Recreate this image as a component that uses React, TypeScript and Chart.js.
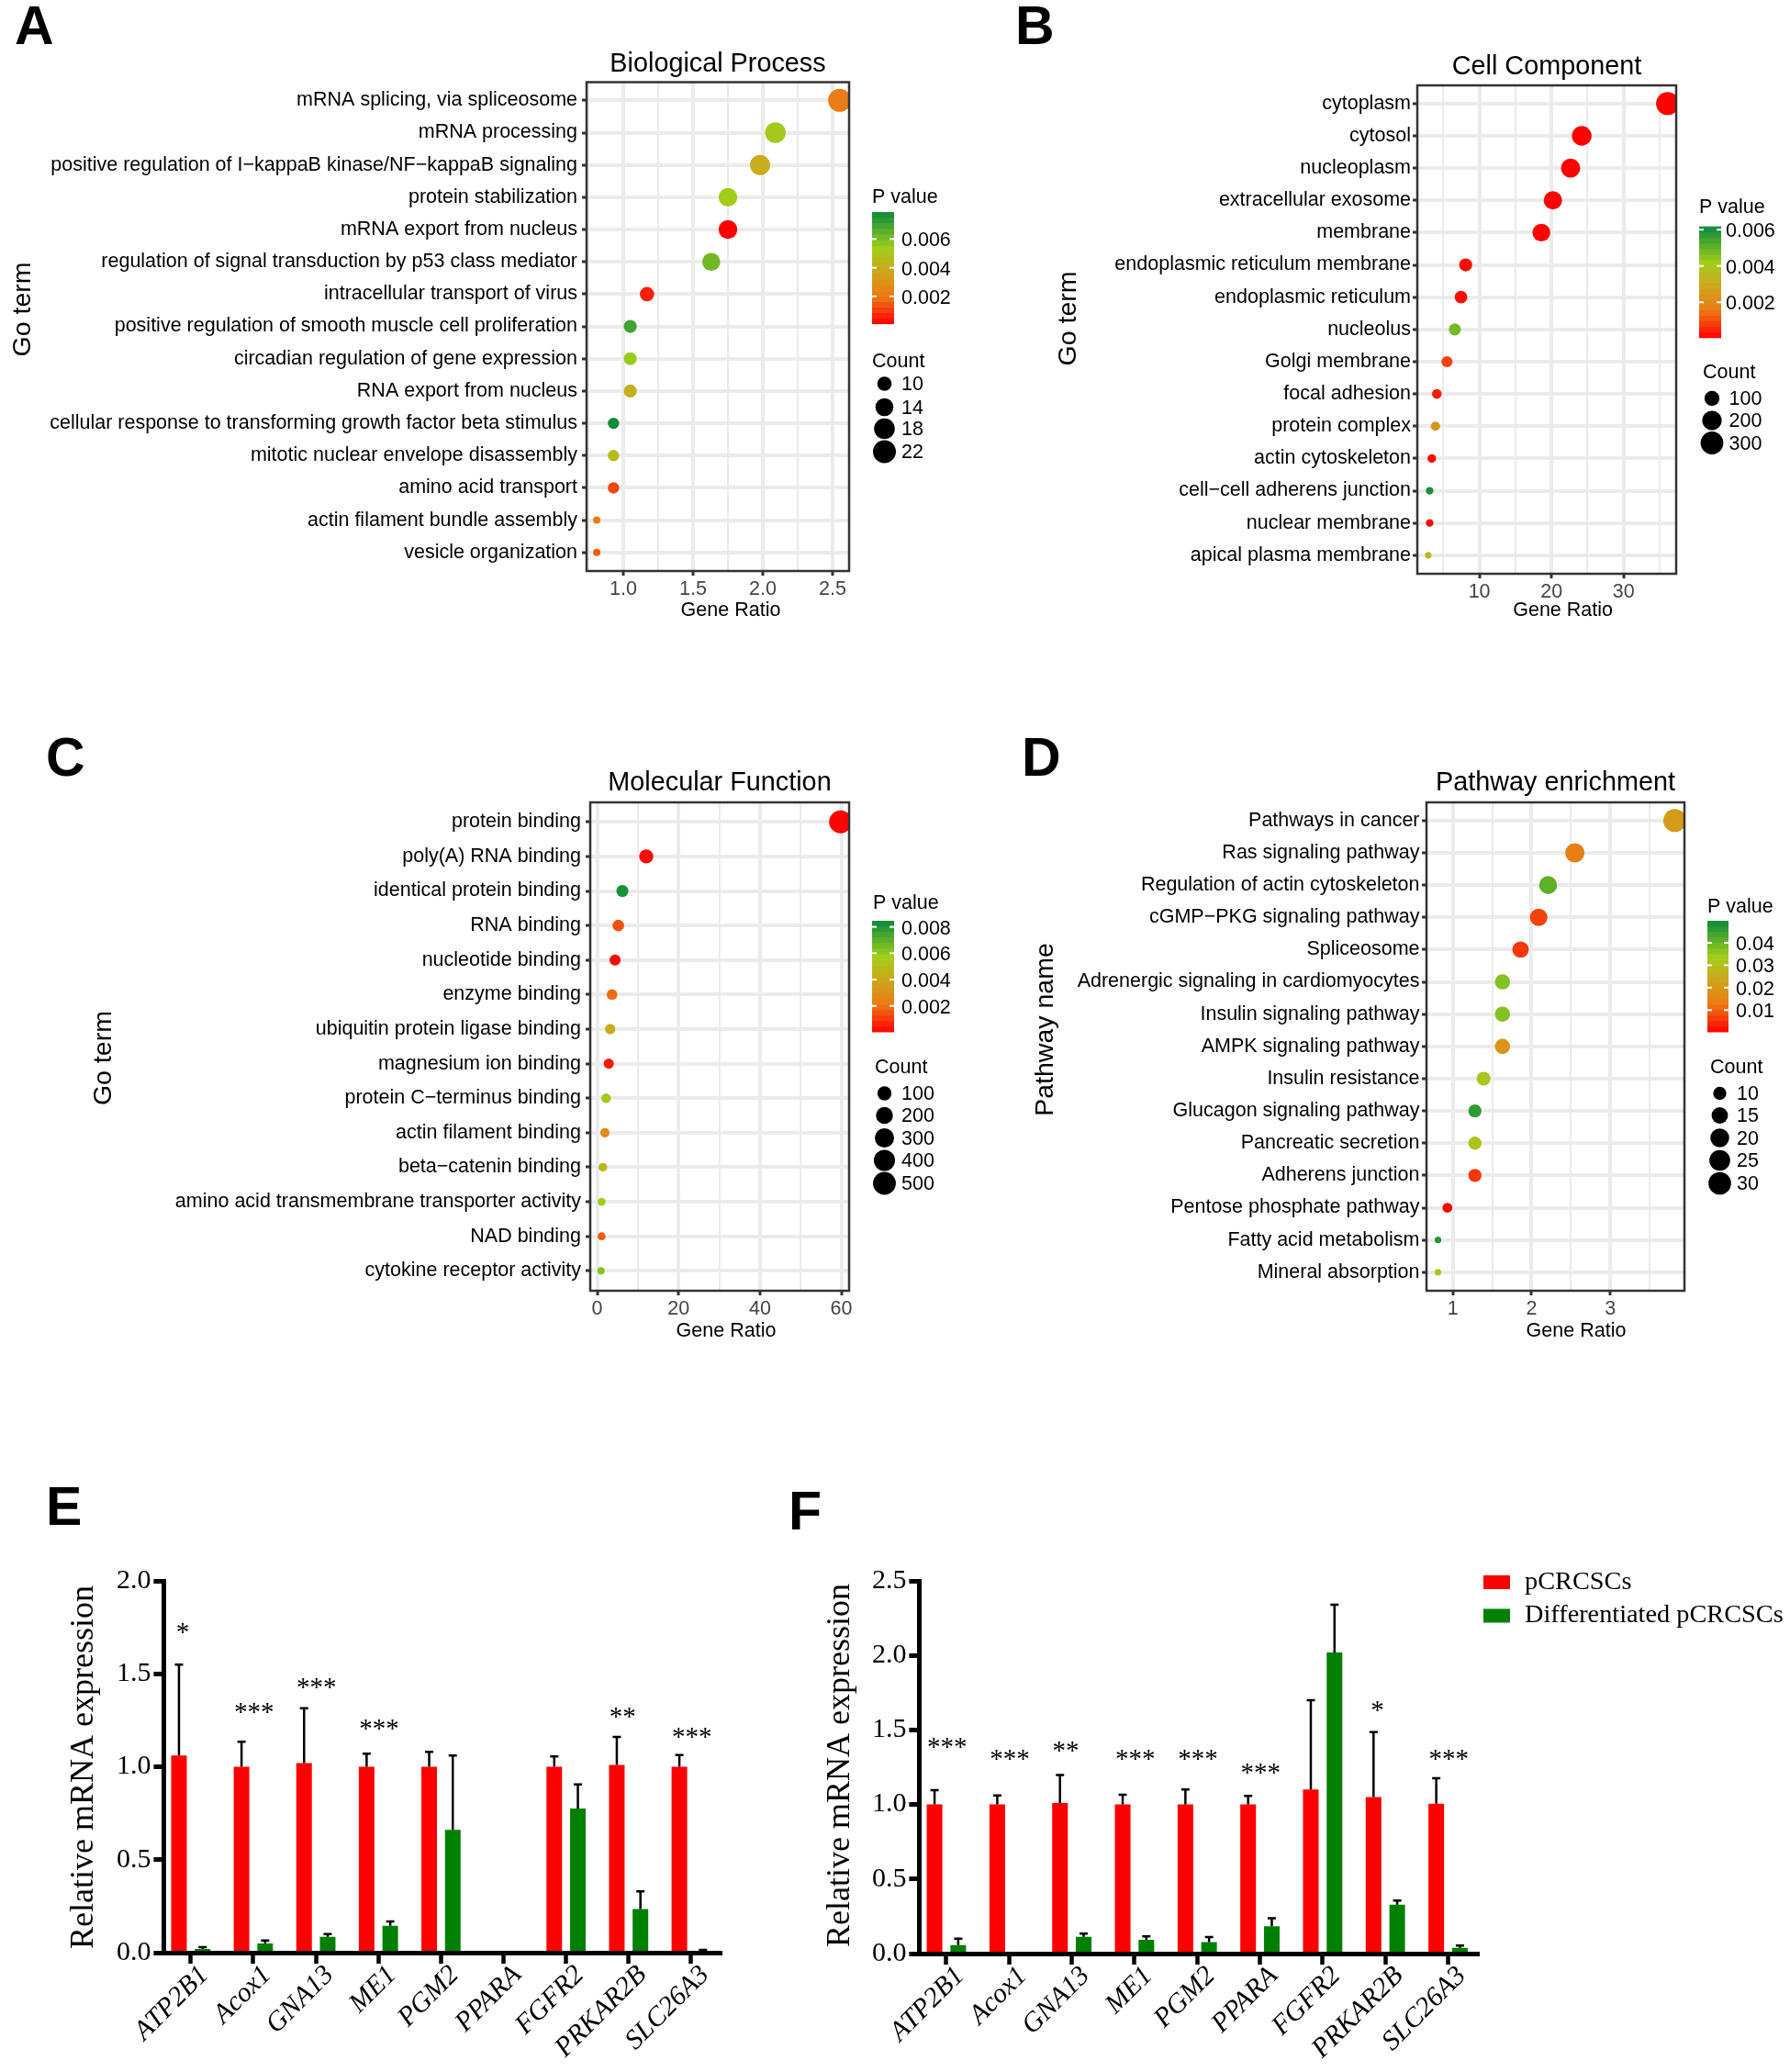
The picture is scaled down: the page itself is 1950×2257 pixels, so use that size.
import React, { useEffect, useRef } from 'react';
import { Chart, registerables } from 'chart.js';

Chart.register(...registerables);

const SANS = '"Liberation Sans", Arial, sans-serif';
const SERIF = '"Liberation Serif", "Times New Roman", serif';

// A - Biological Process
const aTerms = [
  'mRNA splicing, via spliceosome',
  'mRNA processing',
  'positive regulation of I\u2212kappaB kinase/NF\u2212kappaB signaling',
  'protein stabilization',
  'mRNA export from nucleus',
  'regulation of signal transduction by p53 class mediator',
  'intracellular transport of virus',
  'positive regulation of smooth muscle cell proliferation',
  'circadian regulation of gene expression',
  'RNA export from nucleus',
  'cellular response to transforming growth factor beta stimulus',
  'mitotic nuclear envelope disassembly',
  'amino acid transport',
  'actin filament bundle assembly',
  'vesicle organization',
];
const aRatios = [2.55, 2.09, 1.98, 1.75, 1.75, 1.63, 1.17, 1.05, 1.05, 1.05, 0.93, 0.93, 0.93, 0.81, 0.81];
const aCounts = [22, 18, 17, 15, 15, 14, 10, 9, 9, 9, 8, 8, 8, 7, 7];
const aPvals = [0.0021, 0.0052, 0.004, 0.0053, 0.0001, 0.0062, 0.0006, 0.007, 0.0055, 0.0042, 0.0078, 0.0046, 0.0012, 0.0021, 0.0016];

// B - Cell Component
const bTerms = [
  'cytoplasm',
  'cytosol',
  'nucleoplasm',
  'extracellular exosome',
  'membrane',
  'endoplasmic reticulum membrane',
  'endoplasmic reticulum',
  'nucleolus',
  'Golgi membrane',
  'focal adhesion',
  'protein complex',
  'actin cytoskeleton',
  'cell\u2212cell adherens junction',
  'nuclear membrane',
  'apical plasma membrane',
];
const bRatios = [36.1, 24.2, 22.65, 20.2, 18.6, 8.1, 7.45, 6.6, 5.5, 4.1, 3.9, 3.4, 3.1, 3.1, 2.9];
const bCounts = [307, 206, 193, 172, 158, 69, 63, 56, 47, 35, 33, 29, 26, 26, 25];
const bPvals = [0.0001, 0.0001, 0.0001, 0.0001, 0.0001, 0.0002, 0.0002, 0.0048, 0.0009, 0.0004, 0.0024, 0.0002, 0.006, 0.0001, 0.0035];

// C - Molecular Function
const cTerms = [
  'protein binding',
  'poly(A) RNA binding',
  'identical protein binding',
  'RNA binding',
  'nucleotide binding',
  'enzyme binding',
  'ubiquitin protein ligase binding',
  'magnesium ion binding',
  'protein C\u2212terminus binding',
  'actin filament binding',
  'beta\u2212catenin binding',
  'amino acid transmembrane transporter activity',
  'NAD binding',
  'cytokine receptor activity',
];
const cRatios = [59.8, 12.06, 6.2, 5.2, 4.4, 3.65, 3.2, 2.85, 2.2, 1.9, 1.4, 1.1, 1.1, 0.95];
const cCounts = [508, 103, 53, 44, 37, 31, 27, 24, 19, 16, 12, 9, 9, 8];
const cPvals = [0.0001, 0.0002, 0.0082, 0.0014, 0.0002, 0.0019, 0.0042, 0.0005, 0.0056, 0.003, 0.0048, 0.0058, 0.0016, 0.0062];

// D - Pathway enrichment
const dTerms = [
  'Pathways in cancer',
  'Ras signaling pathway',
  'Regulation of actin cytoskeleton',
  'cGMP\u2212PKG signaling pathway',
  'Spliceosome',
  'Adrenergic signaling in cardiomyocytes',
  'Insulin signaling pathway',
  'AMPK signaling pathway',
  'Insulin resistance',
  'Glucagon signaling pathway',
  'Pancreatic secretion',
  'Adherens junction',
  'Pentose phosphate pathway',
  'Fatty acid metabolism',
  'Mineral absorption',
];
const dRatios = [3.82, 2.55, 2.21, 2.09, 1.86, 1.63, 1.63, 1.63, 1.39, 1.28, 1.28, 1.28, 0.93, 0.81, 0.81];
const dCounts = [31, 21, 18, 17, 15, 13, 13, 13, 11, 10, 10, 10, 7, 6, 6];
const dPvals = [0.021, 0.014, 0.041, 0.007, 0.006, 0.037, 0.037, 0.019, 0.032, 0.046, 0.031, 0.006, 0.0006, 0.047, 0.031];

// E / F - qPCR bars
const genes = ['ATP2B1', 'Acox1', 'GNA13', 'ME1', 'PGM2', 'PPARA', 'FGFR2', 'PRKAR2B', 'SLC26A3'];
const eRed = [1.06, 1.0, 1.02, 1.0, 1.0, null, 1.0, 1.01, 1.0];
const eRedTop = [1.55, 1.135, 1.315, 1.07, 1.08, null, 1.055, 1.16, 1.063];
const eGreen = [0.02, 0.05, 0.085, 0.145, 0.66, null, 0.775, 0.235, 0.008];
const eGreenTop = [0.03, 0.065, 0.1, 0.168, 1.06, null, 0.905, 0.33, 0.015];
const eStars = ['*', '***', '***', '***', '', '', '', '**', '***'];
const eStarLevels = [1.74, 1.314, 1.447, 1.225, 0, 0, 0, 1.287, 1.177];

const fRed = [1.0, 1.0, 1.01, 1.0, 1.0, 1.0, 1.1, 1.05, 1.005];
const fRedTop = [1.096, 1.06, 1.197, 1.066, 1.1, 1.058, 1.7, 1.486, 1.176];
const fGreen = [0.057, 0.005, 0.113, 0.093, 0.077, 0.183, 2.02, 0.328, 0.039];
const fGreenTop = [0.1, 0.005, 0.134, 0.116, 0.111, 0.237, 2.34, 0.356, 0.054];
const fStars = ['***', '***', '**', '***', '***', '***', '', '*', '***'];
const fStarLevels = [1.409, 1.326, 1.383, 1.326, 1.326, 1.236, 0, 1.654, 1.326];

const seriesNames = ['pCRCSCs', 'Differentiated pCRCSCs'];

const GRADIENT: [number, number[]][] = [
  [0, [255, 0, 0]],
  [0.25, [236, 122, 20]],
  [0.5, [200, 172, 28]],
  [0.68, [160, 206, 26]],
  [1, [12, 138, 60]],
];

function rampColor(t: number) {
  const v = Math.max(0, Math.min(1, t));
  for (let i = 1; i < GRADIENT.length; i++) {
    const [t1, c1] = GRADIENT[i];
    const [t0, c0] = GRADIENT[i - 1];
    if (v <= t1) {
      const k = (v - t0) / (t1 - t0);
      const c = c0.map((a, j) => Math.round(a + (c1[j] - a) * k));
      return `rgb(${c[0]},${c[1]},${c[2]})`;
    }
  }
  return 'rgb(12,138,60)';
}

function drawText(ctx: any, text: string, x: number, y: number, font: string, align = 'left', rotate = 0, color = '#000') {
  ctx.save();
  ctx.translate(x, y);
  if (rotate) ctx.rotate(rotate);
  ctx.font = font;
  ctx.fillStyle = color;
  ctx.textAlign = align;
  ctx.textBaseline = 'middle';
  ctx.fillText(text, 0, 0);
  ctx.restore();
}

function DotPanel(p: any) {
  const ref = useRef<HTMLCanvasElement | null>(null);
  const [ox, oy, w, h] = p.frame;

  useEffect(() => {
    if (!ref.current) return;
    const cMin = Math.min(...p.counts);
    const cMax = Math.max(...p.counts);
    const radius = (c: number) => p.rMin + (12.5 - p.rMin) * Math.sqrt(Math.max(0, c - cMin) / (cMax - cMin));
    const colorOf = (v: number) => rampColor((v - p.pRange[0]) / (p.pRange[1] - p.pRange[0]));
    const plot = p.plot;

    const decor = {
      id: 'decor',
      afterDraw(chart: any) {
        const ctx = chart.ctx;
        const { left, top, right, bottom } = chart.chartArea;
        ctx.save();
        ctx.strokeStyle = '#333';
        ctx.lineWidth = 2.5;
        ctx.strokeRect(left, top, right - left, bottom - top);
        ctx.restore();

        ctx.font = `bold 59px ${SANS}`;
        ctx.fillStyle = '#000';
        ctx.textBaseline = 'alphabetic';
        ctx.textAlign = 'left';
        ctx.fillText(p.letter, p.letterAt[0] - ox, p.letterAt[1] - oy);

        drawText(ctx, p.yTitle, p.yTitleAt[0] - ox, p.yTitleAt[1] - oy, `28.5px ${SANS}`, 'center', -Math.PI / 2);
        drawText(ctx, 'Gene Ratio', p.xTitleAt[0] - ox, p.xTitleAt[1] - oy + 1, `21.5px ${SANS}`, 'center');

        // colour bar, banded like the ggplot guide
        const bar = p.bar;
        const bandCount = 20;
        const bh = (bar.b - bar.t) / bandCount;
        for (let i = 0; i < bandCount; i++) {
          ctx.fillStyle = rampColor((i + 0.5) / bandCount);
          ctx.fillRect(bar.l - ox, bar.b - oy - (i + 1) * bh, bar.r - bar.l, bh + 0.5);
        }
        const yOfP = (v: number) => bar.b - ((v - p.pRange[0]) / (p.pRange[1] - p.pRange[0])) * (bar.b - bar.t) - oy;
        p.pTicks.forEach((v: number, i: number) => {
          const y = yOfP(v);
          ctx.fillStyle = '#fff';
          ctx.fillRect(bar.l - ox, y - 1, 5, 2);
          ctx.fillRect(bar.r - ox - 5, y - 1, 5, 2);
          drawText(ctx, p.pLabels[i], p.barLabelX - ox, y + 2, `21.5px ${SANS}`);
        });
        drawText(ctx, 'P value', p.pTitleAt[0] - ox, p.pTitleAt[1] - oy + 1.5, `21.5px ${SANS}`);

        drawText(ctx, 'Count', p.countTitleAt[0] - ox, p.countTitleAt[1] - oy + 1.5, `21.5px ${SANS}`);
        p.countTicks.forEach((c: number, i: number) => {
          const y = p.countYs[i] - oy;
          ctx.fillStyle = '#000';
          ctx.beginPath();
          ctx.arc(p.countCx - ox, y, radius(c), 0, Math.PI * 2);
          ctx.fill();
          drawText(ctx, String(c), p.countLabelX - ox, y + 1.5, `21.5px ${SANS}`);
        });
      },
    };

    const titleLine = 28.8 * 1.2;
    const titleTop = p.titleY - oy - titleLine / 2;
    const chart = new Chart(ref.current, {
      type: 'bubble',
      data: {
        datasets: [
          {
            data: p.terms.map((_: string, i: number) => ({ x: p.ratios[i], y: i, r: radius(p.counts[i]) })),
            backgroundColor: p.pvals.map(colorOf),
            borderWidth: 0,
          },
        ],
      },
      options: {
        animation: false,
        responsive: false,
        devicePixelRatio: 1,
        layout: { padding: { left: 0, top: 0, right: ox + w - plot.r, bottom: 0 } },
        plugins: {
          legend: { display: false },
          tooltip: { enabled: false },
          title: {
            display: true,
            text: p.title,
            fullSize: false,
            color: '#000',
            font: { family: SANS, size: 28.8, weight: 'normal', lineHeight: 1.2 },
            padding: { top: titleTop, bottom: plot.t - oy - titleTop - titleLine },
          },
        },
        scales: {
          x: {
            type: 'linear',
            min: p.xRange[0],
            max: p.xRange[1],
            afterFit: (s: any) => { s.height = oy + h - plot.b; },
            afterBuildTicks: (s: any) => {
              s.ticks = [...p.xMajor, ...p.xMinor].map((value: number) => ({ value }));
            },
            border: { display: false },
            grid: {
              color: '#ebebeb',
              lineWidth: (c: any) => (p.xMajor.includes(c.tick?.value) ? 4 : 2),
              tickColor: '#333',
              tickLength: 5,
              tickWidth: (c: any) => (p.xMajor.includes(c.tick?.value) ? 3 : 0),
            },
            ticks: {
              autoSkip: false,
              maxRotation: 0,
              padding: 2,
              color: '#444',
              font: { family: SANS, size: 21.5 },
              callback: (v: any) => (p.xMajor.includes(v) ? p.xLabel(v) : ''),
            },
          },
          y: {
            type: 'linear',
            reverse: true,
            min: -0.565,
            max: p.terms.length - 1 + 0.575,
            afterFit: (s: any) => { s.width = plot.l - ox; },
            afterBuildTicks: (s: any) => {
              s.ticks = p.terms.map((_: string, value: number) => ({ value }));
            },
            border: { display: false },
            grid: { color: '#ebebeb', lineWidth: 4, tickColor: '#333', tickLength: 5, tickWidth: 3 },
            ticks: {
              autoSkip: false,
              padding: p.labelGap,
              color: '#000',
              font: { family: SANS, size: 21.5 },
              callback: (v: any) => p.terms[v],
            },
          },
        },
      } as any,
      plugins: [decor],
    });
    return () => chart.destroy();
  }, []);

  return <canvas ref={ref} width={w} height={h} style={{ position: 'absolute', left: ox, top: oy, width: w, height: h }} />;
}

function BarPanel(p: any) {
  const ref = useRef<HTMLCanvasElement | null>(null);
  const [ox, oy, w, h] = p.frame;

  useEffect(() => {
    if (!ref.current) return;
    const plot = p.plot;

    const overlay = {
      id: 'overlay',
      afterDatasetsDraw(chart: any) {
        const ctx = chart.ctx;
        const yScale = chart.scales.y;
        const xScale = chart.scales.x;
        // error bars, upper side only
        [p.redTop, p.greenTop].forEach((tops: (number | null)[], ds: number) => {
          const meta = chart.getDatasetMeta(ds);
          tops.forEach((top, i) => {
            const bar = meta.data[i];
            if (top == null || !bar) return;
            const yTop = yScale.getPixelForValue(top);
            const yBase = bar.y;
            if (!(yBase - yTop > 0.5)) return;
            ctx.save();
            ctx.strokeStyle = '#000';
            ctx.lineWidth = 2.5;
            ctx.beginPath();
            ctx.moveTo(bar.x, yBase);
            ctx.lineTo(bar.x, yTop);
            ctx.moveTo(bar.x - 4.5, yTop);
            ctx.lineTo(bar.x + 4.5, yTop);
            ctx.stroke();
            ctx.restore();
          });
        });
        p.stars.forEach((s: string, i: number) => {
          if (!s) return;
          const nudge = s.length === 1 ? 5 : 0;
          drawText(ctx, s, xScale.getPixelForValue(i) - 21 + nudge, yScale.getPixelForValue(p.starLevels[i]) + 5, `29px ${SERIF}`);
        });
      },
      afterDraw(chart: any) {
        const ctx = chart.ctx;
        ctx.font = `bold 59px ${SANS}`;
        ctx.fillStyle = '#000';
        ctx.textBaseline = 'alphabetic';
        ctx.textAlign = 'left';
        ctx.fillText(p.letter, p.letterAt[0] - ox, p.letterAt[1] - oy);
        drawText(ctx, 'Relative mRNA expression', p.yTitleAt[0] - ox, p.yTitleAt[1] - oy, `36px ${SERIF}`, 'center', -Math.PI / 2);
        if (p.legend) {
          chart.data.datasets.forEach((d: any, i: number) => {
            const [lx, ly] = p.legend[i];
            ctx.fillStyle = d.backgroundColor;
            ctx.fillRect(lx - ox, ly - oy - 7.5, 29, 15);
            drawText(ctx, d.label, lx + 45 - ox, ly - oy, `28.3px ${SERIF}`);
          });
        }
      },
    };

    const chart = new Chart(ref.current, {
      type: 'bar',
      data: {
        datasets: [
          {
            label: seriesNames[0],
            data: genes.map((_, i) => ({ x: i, y: p.red[i] })),
            backgroundColor: '#ff0000',
            categoryPercentage: 0.755,
            barPercentage: 0.66,
          },
          {
            label: seriesNames[1],
            data: genes.map((_, i) => ({ x: i, y: p.green[i] })),
            backgroundColor: '#008000',
            categoryPercentage: 0.755,
            barPercentage: 0.66,
          },
        ],
      },
      options: {
        animation: false,
        responsive: false,
        devicePixelRatio: 1,
        layout: { padding: { left: 0, top: plot.t - oy, right: ox + w - plot.r, bottom: 0 } },
        plugins: { legend: { display: false }, tooltip: { enabled: false } },
        scales: {
          x: {
            type: 'linear',
            offset: false,
            min: p.xRange[0],
            max: p.xRange[1],
            afterFit: (s: any) => { s.height = oy + h - plot.b; },
            afterBuildTicks: (s: any) => {
              s.ticks = genes.map((_, value) => ({ value }));
            },
            border: { display: true, color: '#000', width: 5, z: 1 },
            grid: { offset: false, drawOnChartArea: false, tickColor: '#000', tickLength: 12, tickWidth: 4.5 },
            ticks: {
              autoSkip: false,
              minRotation: 45,
              maxRotation: 45,
              padding: -5,
              labelOffset: 15,
              color: '#000',
              font: { family: SERIF, size: 30, style: 'italic' },
              callback: (v: any) => genes[v],
            },
          },
          y: {
            type: 'linear',
            min: 0,
            max: p.yMax,
            afterFit: (s: any) => { s.width = plot.l - ox; },
            border: { display: true, color: '#000', width: 5 },
            grid: { drawOnChartArea: false, tickColor: '#000', tickLength: 11, tickWidth: 5 },
            ticks: {
              stepSize: 0.5,
              padding: 3,
              color: '#000',
              font: { family: SERIF, size: 30 },
              callback: (v: any) => Number(v).toFixed(1),
            },
          },
        },
      } as any,
      plugins: [overlay],
    });
    return () => chart.destroy();
  }, []);

  return <canvas ref={ref} width={w} height={h} style={{ position: 'absolute', left: ox, top: oy, width: w, height: h }} />;
}

const App: React.FC = () => (
  <div style={{ position: 'absolute', left: 0, top: 0, width: 1950, height: 2257, background: '#fff', overflow: 'hidden' }}>
    <DotPanel
      frame={[0, 0, 1090, 720]}
      plot={{ l: 639, t: 89.5, r: 925, b: 622 }}
      letter="A" letterAt={[16, 48]}
      title="Biological Process" titleY={70}
      yTitle="Go term" yTitleAt={[25, 337]} xTitleAt={[796, 664]}
      terms={aTerms} ratios={aRatios} counts={aCounts} pvals={aPvals}
      xRange={[0.737, 2.618]} xMajor={[1, 1.5, 2, 2.5]} xMinor={[0.75, 1.25, 1.75, 2.25]}
      xLabel={(v: number) => v.toFixed(1)}
      rMin={4} labelGap={5}
      pRange={[0.0001, 0.00788]} pTicks={[0.002, 0.004, 0.006]} pLabels={['0.002', '0.004', '0.006']}
      bar={{ l: 950, r: 974, t: 231, b: 352.6 }} barLabelX={982} pTitleAt={[950, 214]}
      countTitleAt={[950, 393]} countTicks={[10, 14, 18, 22]} countCx={963.5} countYs={[418, 443.5, 467, 492]} countLabelX={982}
    />
    <DotPanel
      frame={[1090, 0, 860, 720]}
      plot={{ l: 1544, t: 93, r: 1826, b: 625 }}
      letter="B" letterAt={[1106, 48]}
      title="Cell Component" titleY={73}
      yTitle="Go term" yTitleAt={[1164, 347]} xTitleAt={[1702.6, 664]}
      terms={bTerms} ratios={bRatios} counts={bCounts} pvals={bPvals}
      xRange={[1.39, 37.3]} xMajor={[10, 20, 30]} xMinor={[5, 15, 25, 35]}
      xLabel={(v: number) => String(v)}
      rMin={3.6} labelGap={2}
      pRange={[0.00005, 0.00618]} pTicks={[0.002, 0.004, 0.006]} pLabels={['0.002', '0.004', '0.006']}
      bar={{ l: 1851, r: 1875, t: 246.6, b: 367.8 }} barLabelX={1880} pTitleAt={[1851, 225]}
      countTitleAt={[1855, 405]} countTicks={[100, 200, 300]} countCx={1865} countYs={[434, 458, 482.5]} countLabelX={1883.5}
    />
    <DotPanel
      frame={[0, 790, 1090, 720]}
      plot={{ l: 643, t: 874, r: 925, b: 1406 }}
      letter="C" letterAt={[50, 845]}
      title="Molecular Function" titleY={853}
      yTitle="Go term" yTitleAt={[113, 1152.6]} xTitleAt={[791, 1449]}
      terms={cTerms} ratios={cRatios} counts={cCounts} pvals={cPvals}
      xRange={[-1.7, 61.9]} xMajor={[0, 20, 40, 60]} xMinor={[10, 30, 50]}
      xLabel={(v: number) => String(v)}
      rMin={4} labelGap={5}
      pRange={[0.00003, 0.00846]} pTicks={[0.002, 0.004, 0.006, 0.008]} pLabels={['0.002', '0.004', '0.006', '0.008']}
      bar={{ l: 950, r: 974, t: 1003, b: 1124 }} barLabelX={982} pTitleAt={[951, 983]}
      countTitleAt={[953, 1162]} countTicks={[100, 200, 300, 400, 500]} countCx={963.5} countYs={[1191, 1215, 1239.5, 1264, 1289]} countLabelX={982}
    />
    <DotPanel
      frame={[1090, 790, 860, 720]}
      plot={{ l: 1554, t: 874, r: 1835, b: 1406 }}
      letter="D" letterAt={[1113, 845]}
      title="Pathway enrichment" titleY={853}
      yTitle="Pathway name" yTitleAt={[1139, 1121.5]} xTitleAt={[1717, 1449]}
      terms={dTerms} ratios={dRatios} counts={dCounts} pvals={dPvals}
      xRange={[0.664, 3.943]} xMajor={[1, 2, 3]} xMinor={[1.5, 2.5, 3.5]}
      xLabel={(v: number) => String(v)}
      rMin={3.6} labelGap={2.5}
      pRange={[0.0003, 0.0498]} pTicks={[0.01, 0.02, 0.03, 0.04]} pLabels={['0.01', '0.02', '0.03', '0.04']}
      bar={{ l: 1860, r: 1883, t: 1003, b: 1124 }} barLabelX={1891} pTitleAt={[1860, 986.5]}
      countTitleAt={[1863, 1162]} countTicks={[10, 15, 20, 25, 30]} countCx={1873.5} countYs={[1191, 1215, 1239.5, 1264, 1289]} countLabelX={1892}
    />
    <BarPanel
      frame={[0, 1600, 850, 657]}
      plot={{ l: 178.4, t: 1722, r: 786, b: 2127 }}
      letter="E" letterAt={[50, 1661]} yTitleAt={[92, 1925]}
      xRange={[-0.432, 8.485]} yMax={2}
      red={eRed} redTop={eRedTop} green={eGreen} greenTop={eGreenTop}
      stars={eStars} starLevels={eStarLevels}
    />
    <BarPanel
      frame={[850, 1600, 1100, 657]}
      plot={{ l: 1001.4, t: 1722, r: 1611, b: 2128 }}
      letter="F" letterAt={[859, 1666]} yTitleAt={[916, 1923]}
      xRange={[-0.433, 8.49]} yMax={2.5}
      red={fRed} redTop={fRedTop} green={fGreen} greenTop={fGreenTop}
      stars={fStars} starLevels={fStarLevels}
      legend={[[1616, 1723.5], [1616, 1760]]}
    />
  </div>
);

export default App;
